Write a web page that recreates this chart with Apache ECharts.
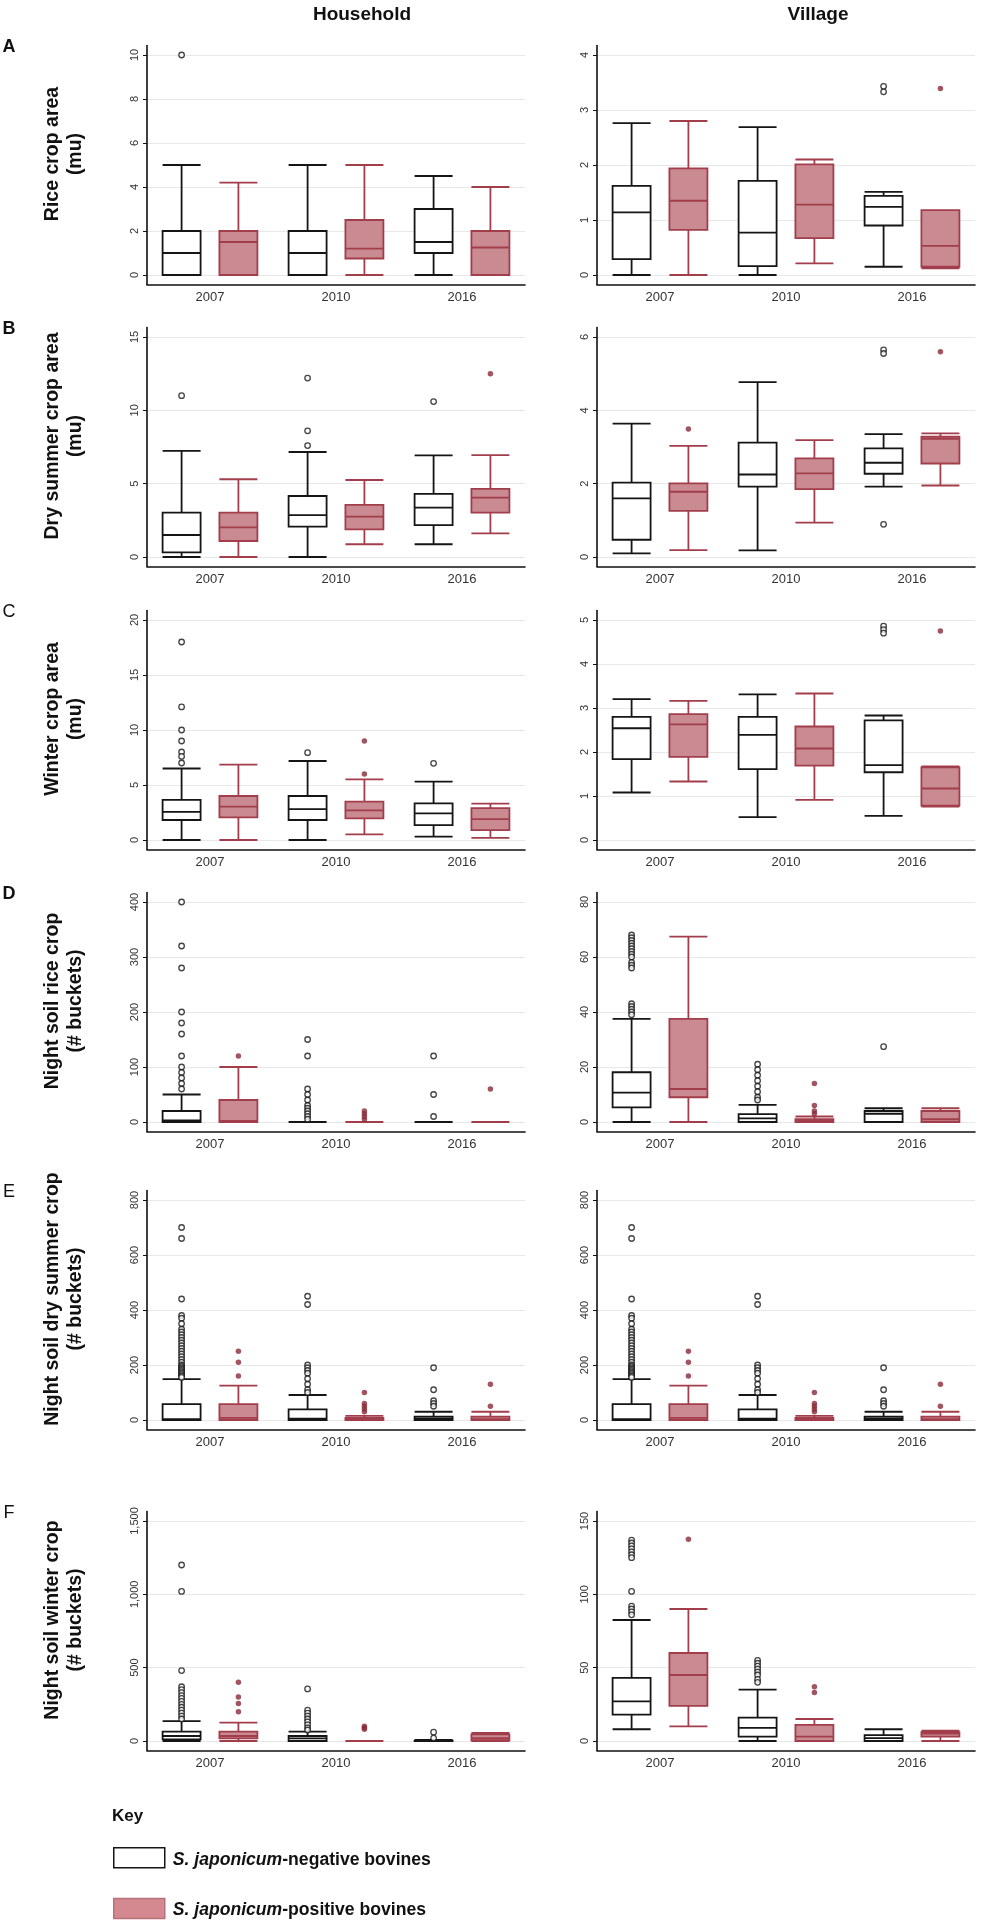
<!DOCTYPE html>
<html><head><meta charset="utf-8">
<script src="https://cdn.jsdelivr.net/npm/echarts@6/dist/echarts.min.js"></script>
<style>html,body{margin:0;padding:0;background:#fff}#c{width:982px;height:1920px}</style>
</head><body><div id="c"></div><script>
// ---------- categories / labels ----------
const years = ['2007', '2010', '2016'];
const groupNames = ['S. japonicum-negative bovines', 'S. japonicum-positive bovines'];
const columnTitles = ['Household', 'Village'];
const panelLetters = ['A', 'B', 'C', 'D', 'E', 'F'];
const rowTitles = ['Rice crop area\n(mu)', 'Dry summer crop area\n(mu)', 'Winter crop area\n(mu)',
  'Night soil rice crop\n(# buckets)', 'Night soil dry summer crop\n(# buckets)', 'Night soil winter crop\n(# buckets)'];

// ---------- data: each box = [lower whisker, Q1, median, Q3, upper whisker] per year ----------
// A: rice crop area
const riceHH_neg = [[0, 0, 1, 2, 5], [0, 0, 1, 2, 5], [0, 1, 1.5, 3, 4.5]];
const riceHH_pos = [[0, 0, 1.5, 2, 4.2], [0, 0.75, 1.2, 2.5, 5], [0, 0, 1.25, 2, 4]];
const riceHH_negOut = [[10], [], []];
const riceHH_posOut = [[], [], []];
const riceHH_ticks = [0, 2, 4, 6, 8, 10];

const riceVil_neg = [[0, 0.29, 1.14, 1.62, 2.76], [0, 0.16, 0.77, 1.71, 2.69], [0.15, 0.9, 1.24, 1.44, 1.51]];
const riceVil_pos = [[0, 0.82, 1.35, 1.94, 2.8], [0.21, 0.67, 1.28, 2.01, 2.1], [0.12, 0.15, 0.53, 1.18, 1.18]];
const riceVil_negOut = [[], [], [3.43, 3.33]];
const riceVil_posOut = [[], [], [3.39]];
const riceVil_ticks = [0, 1, 2, 3, 4];

// B: dry summer crop area
const drySumHH_neg = [[0, 0.32, 1.5, 3.02, 7.23], [0, 2.07, 2.86, 4.16, 7.16], [0.87, 2.18, 3.36, 4.3, 6.93]];
const drySumHH_pos = [[0, 1.09, 2.02, 3.02, 5.3], [0.87, 1.89, 2.75, 3.55, 5.25], [1.61, 3.02, 4.05, 4.64, 6.95]];
const drySumHH_negOut = [[11], [12.2, 8.6, 7.6], [10.6]];
const drySumHH_posOut = [[], [], [12.5]];
const drySumHH_ticks = [0, 5, 10, 15];

const drySumVil_neg = [[0.1, 0.47, 1.6, 2.03, 3.64], [0.18, 1.92, 2.25, 3.12, 4.77], [1.92, 2.27, 2.57, 2.96, 3.35]];
const drySumVil_pos = [[0.19, 1.26, 1.78, 2.01, 3.03], [0.94, 1.85, 2.28, 2.69, 3.19], [1.95, 2.55, 3.22, 3.28, 3.37]];
const drySumVil_negOut = [[], [], [5.65, 5.55, 0.89]];
const drySumVil_posOut = [[3.49], [], [5.6]];
const drySumVil_ticks = [0, 2, 4, 6];

// C: winter crop area
const winterHH_neg = [[0, 1.82, 2.55, 3.64, 6.5], [0, 1.82, 2.8, 4.0, 7.18], [0.3, 1.36, 2.42, 3.33, 5.3]];
const winterHH_pos = [[0, 2.06, 3.03, 4.0, 6.86], [0.52, 1.97, 2.7, 3.48, 5.52], [0.2, 0.9, 1.9, 2.9, 3.3]];
const winterHH_negOut = [[18, 12.1, 10, 9, 8, 7.6, 7], [7.94], [6.97]];
const winterHH_posOut = [[], [9, 6], []];
const winterHH_ticks = [0, 5, 10, 15, 20];

const winterVil_neg = [[1.08, 1.84, 2.54, 2.8, 3.2], [0.52, 1.61, 2.39, 2.8, 3.31], [0.55, 1.54, 1.7, 2.72, 2.83]];
const winterVil_pos = [[1.33, 1.89, 2.63, 2.86, 3.16], [0.91, 1.69, 2.08, 2.58, 3.33], [0.76, 0.78, 1.17, 1.65, 1.67]];
const winterVil_negOut = [[], [], [4.86, 4.78, 4.7]];
const winterVil_posOut = [[], [], [4.75]];
const winterVil_ticks = [0, 1, 2, 3, 4, 5];

// D: night soil rice crop
const nsRiceHH_neg = [[0, 0, 3, 20, 50], [0, 0, 0, 0, 0], [0, 0, 0, 0, 0]];
const nsRiceHH_pos = [[0, 0, 2, 40, 100], [0, 0, 0, 0, 0], [0, 0, 0, 0, 0]];
const nsRiceHH_negOut = [[400, 320, 280, 200, 180, 160, 120, 100, 90, 80, 70, 60],
  [150, 120, 60, 50, 40, 30, 25, 20, 15, 10, 5], [120, 50, 10]];
const nsRiceHH_posOut = [[120], [20, 15, 10, 5], [60]];
const nsRiceHH_ticks = [0, 100, 200, 300, 400];

const nsRiceVil_neg = [[0, 5.3, 10.7, 18.1, 37.5], [0, 0, 1.3, 2.9, 6.2], [0, 0, 3, 4, 5]];
const nsRiceVil_pos = [[0, 9, 12, 37.5, 67.4], [0, 0, 0.3, 1, 2], [0, 0, 1, 4, 5]];
const nsRiceVil_negOut = [[68, 67, 66, 65, 64, 63, 62, 61, 60, 58, 57, 56, 43, 42, 41, 40, 39],
  [21, 19, 17, 15, 13, 11, 9, 8], [27.4]];
const nsRiceVil_posOut = [[], [14, 6, 4, 3], []];
const nsRiceVil_ticks = [0, 20, 40, 60, 80];

// E: night soil dry summer crop (household and village panels show the same values)
const nsDryHH_neg = [[0, 0, 3, 58, 149], [0, 0, 5, 39, 91], [0, 0, 5, 12, 30]];
const nsDryHH_pos = [[0, 0, 8, 58, 125], [0, 0, 2, 8, 15], [0, 0, 3, 12, 30]];
const nsDryHH_negOut = [[700, 660, 440, 380, 370, 350, 330, 320, 310, 300, 290, 280, 270, 260, 250, 240, 230,
  220, 210, 200, 195, 190, 185, 180, 175, 170, 165, 160, 155],
  [450, 420, 200, 190, 180, 170, 150, 130, 110, 100], [190, 110, 70, 60, 50]];
const nsDryHH_posOut = [[250, 210, 160], [100, 60, 50, 40, 30], [130, 50]];
const nsDryHH_ticks = [0, 200, 400, 600, 800];

const nsDryVil_neg = [[0, 0, 3, 58, 149], [0, 0, 5, 39, 91], [0, 0, 5, 12, 30]];
const nsDryVil_pos = [[0, 0, 8, 58, 125], [0, 0, 2, 8, 15], [0, 0, 3, 12, 30]];
const nsDryVil_negOut = [[700, 660, 440, 380, 370, 350, 330, 320, 310, 300, 290, 280, 270, 260, 250, 240, 230,
  220, 210, 200, 195, 190, 185, 180, 175, 170, 165, 160, 155],
  [450, 420, 200, 190, 180, 170, 150, 130, 110, 100], [190, 110, 70, 60, 50]];
const nsDryVil_posOut = [[250, 210, 160], [100, 60, 50, 40, 30], [130, 50]];
const nsDryVil_ticks = [0, 200, 400, 600, 800];

// F: night soil winter crop
const nsWinHH_neg = [[0, 11, 34, 64, 136], [0, 0, 18, 34, 64], [0, 0, 0, 3, 8]];
const nsWinHH_pos = [[0, 18, 34, 64, 125], [0, 0, 0, 0, 0], [0, 5, 20, 45, 55]];
const nsWinHH_negOut = [[1200, 1020, 480, 370, 350, 330, 310, 290, 270, 250, 230, 210, 190, 170, 150],
  [355, 210, 190, 170, 150, 130, 110, 90, 75], [60, 20]];
const nsWinHH_posOut = [[400, 300, 255, 200], [100, 90, 80], []];
const nsWinHH_ticks = [0, 500, 1000, 1500];

const nsWinVil_neg = [[8, 18, 27, 43, 82.5], [0, 3, 9, 16, 35], [0, 0, 2, 4, 8]];
const nsWinVil_pos = [[10, 24, 45, 60, 90], [0, 0, 3, 11, 15], [0, 3, 5, 6, 7]];
const nsWinVil_negOut = [[137, 135, 133, 131, 129, 127, 125, 102, 92, 90, 88, 86],
  [55, 53, 51, 49, 47, 45, 42, 40], []];
const nsWinVil_posOut = [[137.5], [37, 33], []];
const nsWinVil_ticks = [0, 50, 100, 150];

// ---------- panel wiring ----------
const panels = [
  { row: 0, col: 0, neg: riceHH_neg, pos: riceHH_pos, negOut: riceHH_negOut, posOut: riceHH_posOut, ticks: riceHH_ticks },
  { row: 0, col: 1, neg: riceVil_neg, pos: riceVil_pos, negOut: riceVil_negOut, posOut: riceVil_posOut, ticks: riceVil_ticks },
  { row: 1, col: 0, neg: drySumHH_neg, pos: drySumHH_pos, negOut: drySumHH_negOut, posOut: drySumHH_posOut, ticks: drySumHH_ticks },
  { row: 1, col: 1, neg: drySumVil_neg, pos: drySumVil_pos, negOut: drySumVil_negOut, posOut: drySumVil_posOut, ticks: drySumVil_ticks },
  { row: 2, col: 0, neg: winterHH_neg, pos: winterHH_pos, negOut: winterHH_negOut, posOut: winterHH_posOut, ticks: winterHH_ticks },
  { row: 2, col: 1, neg: winterVil_neg, pos: winterVil_pos, negOut: winterVil_negOut, posOut: winterVil_posOut, ticks: winterVil_ticks },
  { row: 3, col: 0, neg: nsRiceHH_neg, pos: nsRiceHH_pos, negOut: nsRiceHH_negOut, posOut: nsRiceHH_posOut, ticks: nsRiceHH_ticks },
  { row: 3, col: 1, neg: nsRiceVil_neg, pos: nsRiceVil_pos, negOut: nsRiceVil_negOut, posOut: nsRiceVil_posOut, ticks: nsRiceVil_ticks },
  { row: 4, col: 0, neg: nsDryHH_neg, pos: nsDryHH_pos, negOut: nsDryHH_negOut, posOut: nsDryHH_posOut, ticks: nsDryHH_ticks },
  { row: 4, col: 1, neg: nsDryVil_neg, pos: nsDryVil_pos, negOut: nsDryVil_negOut, posOut: nsDryVil_posOut, ticks: nsDryVil_ticks },
  { row: 5, col: 0, neg: nsWinHH_neg, pos: nsWinHH_pos, negOut: nsWinHH_negOut, posOut: nsWinHH_posOut, ticks: nsWinHH_ticks },
  { row: 5, col: 1, neg: nsWinVil_neg, pos: nsWinVil_pos, negOut: nsWinVil_negOut, posOut: nsWinVil_posOut, ticks: nsWinVil_ticks }
];

// ---------- layout & style ----------
const FONT = '"Liberation Sans", Arial, Helvetica, sans-serif';
const TICK_TOP = [55, 337, 620, 902, 1200, 1521];   // pixel row of the top tick in each row
const SPAN = 220, PAD = 9.5;
const COL_LEFT = [147, 597], PLOT_W = 378;
const NEG_STYLE = { color: '#ffffff', borderColor: '#151515', borderWidth: 1.8 };
const POS_STYLE = { color: '#c98a91', borderColor: '#a23e4b', borderWidth: 1.8 };
const POS_DOT = '#8a2a38';

// boxplot side-by-side offsets (same formula ECharts uses for 2 series per band)
const bandW = PLOT_W / years.length;
const avail = bandW * 0.8 - 2;
const boxGap = avail / 2 * 0.3;
const boxW = (avail - boxGap) / 2;
const OFFSETS = [boxW / 2 - avail / 2, boxW / 2 - avail / 2 + boxGap + boxW];

const fmtNum = v => String(v).replace(/\B(?=(\d{3})+(?!\d))/g, ',');
const outData = arr => arr.flatMap((vals, ci) => vals.map(v => [years[ci], v]));

const grid = [], xAxis = [], yAxis = [], series = [];
panels.forEach((p, i) => {
  const top = TICK_TOP[p.row] - PAD;
  grid.push({ left: COL_LEFT[p.col], top: top, width: PLOT_W, height: SPAN + 2 * PAD, containLabel: false, outerBoundsMode: 'none' });
  xAxis.push({
    type: 'category', gridIndex: i, data: years, boundaryGap: true,
    axisLine: { onZero: false, lineStyle: { color: '#111', width: 1.6 } },
    axisTick: { show: false },
    axisLabel: { margin: 6, fontSize: 13, color: '#333', fontFamily: FONT },
    splitLine: { show: false }
  });
  const maxT = p.ticks[p.ticks.length - 1];
  const pad = maxT * PAD / SPAN;
  yAxis.push({
    type: 'value', gridIndex: i, min: -pad, max: maxT + pad,
    axisLine: { show: true, lineStyle: { color: '#111', width: 1.6 } },
    axisTick: { show: true, length: 4, customValues: p.ticks, lineStyle: { color: '#111', width: 1 } },
    axisLabel: { rotate: 90, customValues: p.ticks, margin: 7, fontSize: 11, color: '#333', fontFamily: FONT, formatter: v => fmtNum(v) },
    splitLine: { show: true, lineStyle: { color: '#e8e8e8', width: 1 } }
  });
  series.push({
    type: 'boxplot', name: groupNames[0], xAxisIndex: i, yAxisIndex: i, data: p.neg,
    boxWidth: [38, 38], itemStyle: NEG_STYLE, silent: true, emphasis: { disabled: true }
  });
  series.push({
    type: 'boxplot', name: groupNames[1], xAxisIndex: i, yAxisIndex: i, data: p.pos,
    boxWidth: [38, 38], itemStyle: POS_STYLE, silent: true, emphasis: { disabled: true }
  });
  series.push({
    type: 'scatter', name: 'neg-outliers', xAxisIndex: i, yAxisIndex: i, data: outData(p.negOut),
    symbol: 'circle', symbolSize: 5.5, symbolOffset: [OFFSETS[0], 0], z: 5, silent: true,
    itemStyle: { color: '#ffffff', borderColor: '#151515', borderWidth: 1.3 }
  });
  series.push({
    type: 'scatter', name: 'pos-outliers', xAxisIndex: i, yAxisIndex: i, data: outData(p.posOut),
    symbol: 'circle', symbolSize: 5.5, symbolOffset: [OFFSETS[1], 0], z: 5, silent: true,
    itemStyle: { color: POS_DOT }
  });
});

// ---------- text decorations ----------
const graphic = [];
const headerX = [362, 818];
columnTitles.forEach((t, c) => graphic.push({
  type: 'text', x: headerX[c], y: 15,
  style: { text: t, font: 'bold 19px ' + FONT, fill: '#111', align: 'center', verticalAlign: 'middle' }
}));
panelLetters.forEach((L, r) => {
  const bold = (L === 'A' || L === 'B' || L === 'D');
  graphic.push({
    type: 'text', x: 9, y: TICK_TOP[r] - PAD + 2,
    style: { text: L, font: (bold ? 'bold ' : '') + '18px ' + FONT, fill: '#111', align: 'center', verticalAlign: 'middle' }
  });
  graphic.push({
    type: 'text', x: 64.5, y: TICK_TOP[r] + SPAN / 2 - 11, rotation: Math.PI / 2,
    style: { text: rowTitles[r], font: 'bold 19.5px ' + FONT, fill: '#111', align: 'center', verticalAlign: 'middle', lineHeight: 23 }
  });
});
graphic.push({
  type: 'text', x: 112, y: 1816,
  style: { text: 'Key', font: 'bold 17px ' + FONT, fill: '#111', align: 'left', verticalAlign: 'middle' }
});

const option = {
  animation: false,
  backgroundColor: '#ffffff',
  grid, xAxis, yAxis, series, graphic,
  legend: {
    data: [
      { name: groupNames[0], itemStyle: { color: '#ffffff', borderColor: '#151515', borderWidth: 1.5 } },
      { name: groupNames[1], itemStyle: { color: '#d4888f', borderColor: '#b8707a', borderWidth: 1.5 } }
    ],
    orient: 'vertical', left: 113, top: 1847, height: 150, padding: 0,
    itemWidth: 51, itemHeight: 20, itemGap: 29,
    icon: 'rect', selectedMode: false,
    formatter: name => {
      const k = name.indexOf('-');
      return '{i|' + name.slice(0, k) + '}{n|' + name.slice(k) + '}';
    },
    textStyle: {
      fontSize: 17.6, fontWeight: 'bold', fontFamily: FONT, color: '#111',
      rich: {
        i: { fontStyle: 'italic', fontWeight: 'bold', fontSize: 17.6, fontFamily: FONT, color: '#111', padding: [4, 0, 0, 3] },
        n: { fontWeight: 'bold', fontSize: 17.6, fontFamily: FONT, color: '#111', padding: [4, 0, 0, 0] }
      }
    }
  }
};

const chart = echarts.init(document.getElementById('c'), null, { renderer: 'canvas', width: 982, height: 1920 });
chart.setOption(option);
</script></body></html>
